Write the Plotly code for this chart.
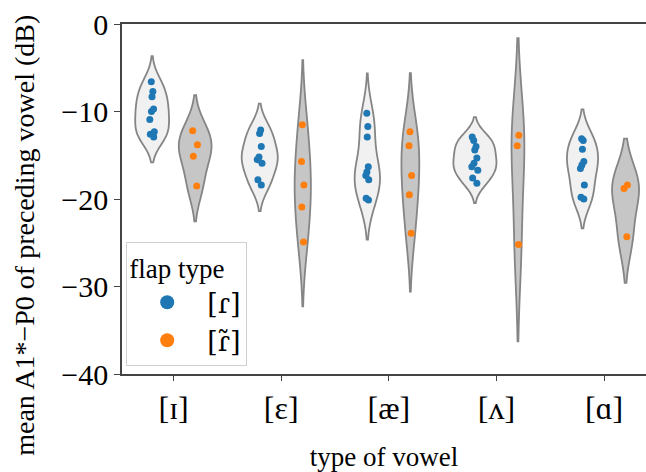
import numpy as np
import plotly.graph_objects as go

vowels = ["[ɪ]", "[ɛ]", "[æ]", "[ʌ]", "[ɑ]"]
flap_types = ["[ɾ]", "[ɾ̃]"]

# mean A1*-P0 values per vowel, plain flap [ɾ]
plain = {
    "[ɪ]": [-6.6, -7.7, -8.3, -9.7, -10.0, -10.9, -12.3, -12.6, -12.9],
    "[ɛ]": [-12.1, -12.5, -14.0, -15.2, -15.5, -15.9, -17.8, -18.4],
    "[æ]": [-10.2, -11.7, -12.9, -16.3, -16.9, -17.3, -17.8, -19.9, -20.1],
    "[ʌ]": [-12.9, -13.3, -14.0, -14.4, -15.3, -15.9, -16.3, -16.7, -17.6, -18.2],
    "[ɑ]": [-13.1, -13.3, -14.3, -15.7, -16.1, -16.5, -18.4, -19.8, -20.0],
}
# nasalized flap [ɾ̃]
nasal = {
    "[ɪ]": [-12.2, -13.8, -15.1, -18.5],
    "[ɛ]": [-11.5, -15.7, -18.4, -20.9, -24.9],
    "[æ]": [-12.3, -13.9, -17.3, -19.5, -23.9],
    "[ʌ]": [-12.7, -13.9, -25.2],
    "[ɑ]": [-18.4, -18.8, -24.3],
}

series = [plain, nasal]
offsets = [-0.2, 0.2]
fills = ["#f1f1f1", "#c6c6c6"]
pt_colors = ["#1f77b4", "#ff7f0e"]
SERIF = "Liberation Serif, Times New Roman, DejaVu Serif, serif"


def scott_bw(v):
    v = np.asarray(v, float)
    return v.std(ddof=1) * len(v) ** (-0.2)


def peak_density(v):
    v = np.asarray(v, float)
    bw = scott_bw(v)
    grid = np.linspace(v.min() - 3 * bw, v.max() + 3 * bw, 2000)
    d = np.exp(-0.5 * ((grid[:, None] - v[None, :]) / bw) ** 2).sum(1)
    d /= len(v) * bw * np.sqrt(2 * np.pi)
    return d.max()


peaks = {(h, c): peak_density(series[h][c]) for h in range(2) for c in vowels}
pmax = max(peaks.values())

fig = go.Figure()
for h in range(2):
    for i, c in enumerate(vowels):
        vals = series[h][c]
        fig.add_trace(go.Violin(
            y=vals,
            x0=i + offsets[h],
            width=0.4 * peaks[(h, c)] / pmax,
            bandwidth=scott_bw(vals),
            spanmode="soft",
            scalemode="width",
            fillcolor=fills[h],
            line=dict(color="#858585", width=1.8),
            points="all",
            pointpos=0,
            jitter=0.18,
            marker=dict(color=pt_colors[h], size=7, line=dict(width=0)),
            meanline_visible=False,
            box_visible=False,
            showlegend=False,
            hoverinfo="y",
        ))

for h in range(2):
    fig.add_trace(go.Scatter(
        x=[None], y=[None], mode="markers", name=flap_types[h],
        marker=dict(color=pt_colors[h], size=14),
    ))

fig.update_layout(
    width=646, height=472,
    margin=dict(l=122, r=0, t=24, b=98),
    plot_bgcolor="white", paper_bgcolor="white",
    font=dict(family=SERIF, size=26, color="black"),
    violinmode="overlay",
    showlegend=True,
    legend=dict(
        title=dict(text="flap type", font=dict(size=27, family=SERIF)),
        x=0.008, y=0.377, xanchor="left", yanchor="top",
        bgcolor="rgba(255,255,255,0.85)", bordercolor="#d0d0d0", borderwidth=1,
        font=dict(size=27, family="DejaVu Serif, Liberation Serif, serif"),
        itemwidth=70,
    ),
    xaxis=dict(
        range=[-0.48, 4.39], tickvals=list(range(len(vowels))), ticktext=vowels,
        tickfont=dict(size=32),
        showline=True, linecolor="#444", linewidth=1.5, mirror=True,
        ticks="outside", ticklen=5, tickcolor="#444", showgrid=False, zeroline=False,
        title=dict(text="type of vowel", font=dict(size=27), standoff=22),
        ticklabelstandoff=0, automargin=False,
    ),
    yaxis=dict(
        range=[-40, 0], tickvals=[0, -10, -20, -30, -40],
        ticktext=["0", "−10", "−20", "−30", "−40"],
        tickfont=dict(size=30),
        showline=True, linecolor="#444", linewidth=1.5,
        ticks="outside", ticklen=6, tickcolor="#444", showgrid=False, zeroline=False,
        automargin=False,
    ),
    annotations=[dict(
        text="mean A1*−P0 of preceding vowel (dB)", textangle=-90,
        xref="paper", yref="paper", x=-0.185, y=0.395,
        xanchor="center", yanchor="middle", showarrow=False,
        font=dict(size=28),
    )],
)

fig.write_html("out.html", config={"displayModeBar": False},
               post_script="document.body.style.margin='0px';")
